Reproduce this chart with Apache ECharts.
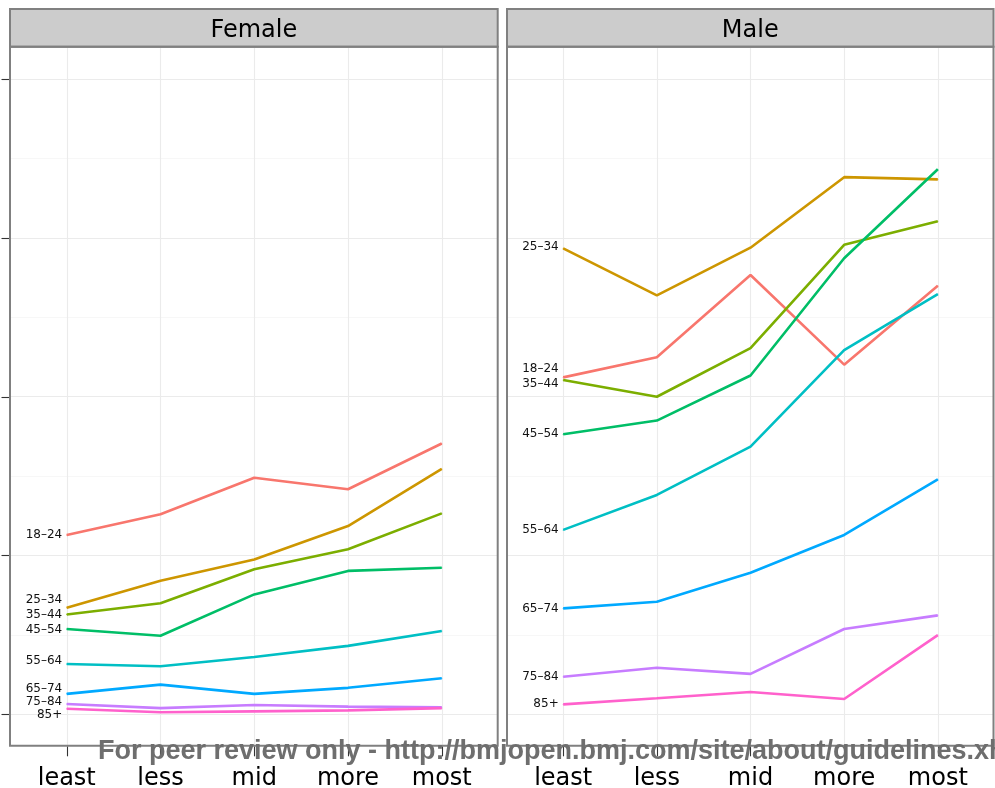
<!DOCTYPE html>
<html>
<head>
<meta charset="utf-8">
<script src="https://cdn.jsdelivr.net/npm/echarts@6/dist/echarts.min.js"></script>
<style>
  html, body { margin: 0; padding: 0; background: #ffffff; }
  #chart { width: 995px; height: 788px; }
</style>
</head>
<body>
<div id="chart"></div>
<script>
// Deprivation categories along the x axis
const categories = ['least', 'less', 'mid', 'more', 'most'];
const ageGroups = ['18–24', '25–34', '35–44', '45–54', '55–64', '65–74', '75–84', '85+'];
const facets = ['Female', 'Male'];

// Tick positions on the (unlabelled) y axis
const yMajorTicks = [0, 5, 10, 15, 20];
const yMinorTicks = [2.5, 7.5, 12.5, 17.5];
const xTicks = [0, 1, 2, 3, 4];

// Female rates by age group
const female18to24 = [5.65, 6.30, 7.45, 7.09, 8.53];
const female25to34 = [3.36, 4.21, 4.88, 5.93, 7.73];
const female35to44 = [3.15, 3.50, 4.57, 5.20, 6.33];
const female45to54 = [2.69, 2.48, 3.78, 4.52, 4.62];
const female55to64 = [1.59, 1.52, 1.81, 2.16, 2.63];
const female65to74 = [0.65, 0.94, 0.65, 0.84, 1.14];
const female75to84 = [0.33, 0.20, 0.30, 0.25, 0.23];
const female85plus = [0.18, 0.07, 0.10, 0.13, 0.20];

// Male rates by age group
const male18to24 = [10.61, 11.24, 13.83, 11.01, 13.49];
const male25to34 = [14.67, 13.19, 14.69, 16.91, 16.84];
const male35to44 = [10.53, 10.00, 11.53, 14.78, 15.52];
const male45to54 = [8.82, 9.25, 10.67, 14.36, 17.16];
const male55to64 = [5.81, 6.91, 8.43, 11.47, 13.23];
const male65to74 = [3.34, 3.55, 4.46, 5.65, 7.40];
const male75to84 = [1.19, 1.47, 1.28, 2.69, 3.12];
const male85plus = [0.32, 0.51, 0.71, 0.49, 2.50];

const femaleSeries = [female18to24, female25to34, female35to44, female45to54,
                      female55to64, female65to74, female75to84, female85plus];
const maleSeries = [male18to24, male25to34, male35to44, male45to54,
                    male55to64, male65to74, male75to84, male85plus];

// ggplot-style hue palette, one colour per age group
const palette = ['#F8766D', '#CD9600', '#7CAE00', '#00BE67', '#00BFC4', '#00A9FF', '#C77CFF', '#FF61CC'];

// Vertical nudges (px) keeping the start-of-line labels apart (age-group order)
const labelNudge = {
  Female: [0, -8, 0, 1, -3, -5, -2, 6],
  Male: [-8, -1.5, 3.5, 0, 0, 0, 0, 0]
};

// Panel geometry
const panels = [
  { left: 10.5, width: 487.5, boxLeft: 10, boxRight: 497.7 },
  { left: 507, width: 487, boxLeft: 507, boxRight: 993.5 }
];
const plotTop = 47.2;
const plotBottom = 746.3;
const stripTop = 9;

const FONT = 'DejaVu Sans';

const grids = panels.map(p => ({
  left: p.left, width: p.width, top: plotTop, height: plotBottom - plotTop,
  show: false, containLabel: false, outerBoundsMode: 'none'
}));

const xAxes = panels.map((p, i) => ({
  type: 'value', gridIndex: i, min: -0.6, max: 4.6, position: 'bottom',
  axisLine: { show: false, onZero: false },
  axisTick: { show: true, customValues: xTicks, length: 10, lineStyle: { color: '#333333', width: 1.1 } },
  axisLabel: {
    show: true, customValues: xTicks, margin: 20,
    formatter: v => categories[Math.round(v)],
    fontFamily: FONT, fontSize: 24, color: '#000000'
  },
  splitLine: { show: true, lineStyle: { color: '#ebebeb', width: 1.1 } }
}));

const yAxes = [];
panels.forEach((p, i) => {
  yAxes.push({
    type: 'value', gridIndex: i, min: -1, max: 21, position: 'left',
    axisLine: { show: false, onZero: false },
    axisTick: { show: i === 0, customValues: yMajorTicks, length: 9, lineStyle: { color: '#333333', width: 1.1 } },
    axisLabel: { show: false },
    splitLine: { show: true, lineStyle: { color: '#ebebeb', width: 1.1 } }
  });
  yAxes.push({
    type: 'value', gridIndex: i, min: -1, max: 21, position: 'right',
    axisLine: { show: false, onZero: false },
    axisTick: { show: false, customValues: yMinorTicks },
    axisLabel: { show: false },
    splitLine: { show: true, lineStyle: { color: '#f4f4f4', width: 0.7 } }
  });
});

const series = [];
[femaleSeries, maleSeries].forEach((set, fi) => {
  set.forEach((values, gi) => {
    const name = ageGroups[gi];
    series.push({
      type: 'line', name: name,
      xAxisIndex: fi, yAxisIndex: fi * 2,
      data: values.map((v, k) => [k, v]),
      symbol: 'circle', symbolSize: 1, showSymbol: true,
      itemStyle: { color: palette[gi] },
      lineStyle: { color: palette[gi], width: 2.6 },
      label: {
        show: true, position: 'left', distance: 4,
        offset: [0, labelNudge[facets[fi]][gi]],
        formatter: p => (p.dataIndex === 0 ? name : ''),
        fontFamily: FONT, fontSize: 12, color: '#111111'
      },
      emphasis: { disabled: true },
      silent: true
    });
  });
});

const graphics = [];
panels.forEach((p, i) => {
  // strip header
  graphics.push({
    type: 'rect', z: 50,
    shape: { x: p.boxLeft, y: stripTop, width: p.boxRight - p.boxLeft, height: plotTop - stripTop - 0.5 },
    style: { fill: '#cccccc', stroke: '#808080', lineWidth: 2 }
  });
  graphics.push({
    type: 'text', z: 51,
    x: (p.boxLeft + p.boxRight) / 2, y: 31,
    style: { text: facets[i], font: '24px "DejaVu Sans"', fill: '#000000', align: 'center', verticalAlign: 'middle' }
  });
  // panel frame
  graphics.push({
    type: 'rect', z: 50,
    shape: { x: p.boxLeft, y: plotTop - 0.5, width: p.boxRight - p.boxLeft, height: plotBottom - plotTop },
    style: { fill: 'none', stroke: '#808080', lineWidth: 2 }
  });
});
graphics.push({
  type: 'text', z: 60, x: 98, y: 752,
  style: {
    text: 'For peer review only - http://bmjopen.bmj.com/site/about/guidelines.xhtml',
    font: 'bold 27px "Liberation Sans"', fill: '#6e6e6e', align: 'left', verticalAlign: 'middle'
  }
});

const chart = echarts.init(document.getElementById('chart'), null, { renderer: 'canvas' });
chart.setOption({
  animation: false,
  backgroundColor: '#ffffff',
  grid: grids,
  xAxis: xAxes,
  yAxis: yAxes,
  series: series,
  graphic: { elements: graphics }
});
</script>
</body>
</html>
